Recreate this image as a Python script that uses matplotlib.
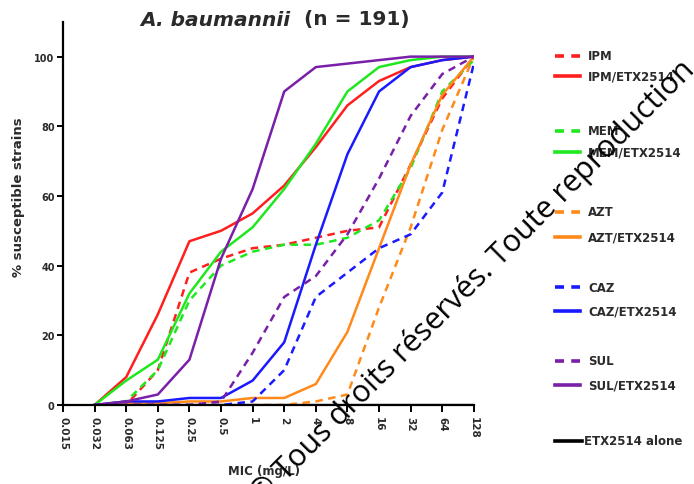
import matplotlib
matplotlib.use('Agg')
import matplotlib.pyplot as plt
from matplotlib.lines import Line2D

plt.rcParams.update({
    'font.family': ['DejaVu Sans'],
    'font.weight': 'bold',
    'axes.labelweight': 'bold',
    'axes.linewidth': 1.6,
})

mic = ['0.015', '0.032', '0.063', '0.125', '0.25', '0.5', '1', '2',
       '4', '8', '16', '32', '64', '128']

# % susceptible, starting at 0.032
ipm = [0, 0, 10, 38, 42, 45, 46, 48, 50, 51, 69, 88, 100]
ipm_etx = [0, 8, 26, 47, 50, 55, 63, 74, 86, 93, 97, 99, 100]
mem = [0, 1, 10, 30, 40, 44, 46, 46, 48, 53, 68, 90, 99]
mem_etx = [0, 7, 13, 32, 44, 51, 62, 75, 90, 97, 99, 100, 100]
azt = [0, 0, 0, 0, 0, 0, 0, 1, 3, 28, 51, 79, 100]
azt_etx = [0, 0.5, 0.5, 1, 1, 2, 2, 6, 21, 45, 69, 89, 100]
caz = [0, 0, 0, 0, 0, 1, 10, 31, 38, 45, 49, 61, 98]
caz_etx = [0, 1, 1, 2, 2, 7, 18, 46, 72, 90, 97, 99, 100]
sul = [0, 0, 0, 0, 1, 15, 31, 37, 49, 65, 83, 95, 100]
sul_etx = [0, 1, 3, 13, 42, 62, 90, 97, 98, 99, 100, 100, 100]
etx_alone = [0] * 13

RED = '#ff1f1f'
GREEN = '#1fe81f'
ORANGE = '#ff8a1a'
BLUE = '#1a1aff'
PURPLE = '#7a1fa8'
TXT = '#2a2a2a'

series = [
    ('IPM', ipm, RED, '--'), ('IPM/ETX2514', ipm_etx, RED, '-'),
    ('MEM', mem, GREEN, '--'), ('MEM/ETX2514', mem_etx, GREEN, '-'),
    ('AZT', azt, ORANGE, '--'), ('AZT/ETX2514', azt_etx, ORANGE, '-'),
    ('CAZ', caz, BLUE, '--'), ('CAZ/ETX2514', caz_etx, BLUE, '-'),
    ('SUL', sul, PURPLE, '--'), ('SUL/ETX2514', sul_etx, PURPLE, '-'),
]

W, H = 694, 485
fig = plt.figure(figsize=(6.94, 4.85), dpi=100)
ax = fig.add_axes([0.0908, 0.163, 0.592, 0.79])

x = list(range(1, len(mic)))
ax.plot(x, etx_alone, color='black', lw=1.6, zorder=1)
for name, vals, c, ls in series:
    ax.plot(x, vals, color=c, ls=ls, lw=1.8, dashes=(3, 2.2) if ls == '--' else (None, None),
            zorder=2)

ax.set_xlim(0, len(mic) - 1)
ax.set_ylim(0, 110)
ax.set_xticks(range(len(mic)))
ax.set_xticklabels(mic, rotation=270, fontsize=7.5, color=TXT)
ax.set_yticks([0, 20, 40, 60, 80, 100])
ax.tick_params(axis='y', labelsize=7, length=4, width=1.4, pad=2, labelcolor=TXT)
ax.tick_params(axis='x', length=5, width=1.4, pad=3)
for s in ['top', 'right']:
    ax.spines[s].set_visible(False)
ax.set_ylabel('% susceptible strains', fontsize=9.5, color=TXT)
ax.yaxis.set_label_coords(-0.092, 0.545)
ax.set_xlabel('MIC (mg/L)', fontsize=8.5, color=TXT)
ax.xaxis.set_label_coords(0.49, -0.155)

fig.text(290 / W, 1 - 20 / H, 'A. baumannii', ha='right', va='center',
         fontsize=14.5, style='italic', color=TXT)
fig.text(304 / W, 1 - 20 / H, '(n = 191)', ha='left', va='center',
         fontsize=14.5, color=TXT)

# legend drawn by hand to keep the grouped spacing
leg_y = [57, 77, 132, 153, 213, 238, 288, 312, 362, 386]
for (name, vals, c, ls), yp in zip(series, leg_y):
    fig.add_artist(Line2D([555 / W, 580 / W], [1 - yp / H] * 2, color=c, lw=2.6,
                          ls=ls, dashes=(2.5, 2) if ls == '--' else (None, None)))
    fig.text(588 / W, 1 - yp / H, name, fontsize=8.5, va='center', color=TXT)
fig.add_artist(Line2D([555 / W, 582 / W], [1 - 442 / H] * 2, color='black', lw=2.6))
fig.text(584 / W, 1 - 442 / H, 'ETX2514 alone', fontsize=8.5, va='center', color=TXT)

# watermark
fig.text(262 / W, 1 - 505 / H, '© Tous droits réservés. Toute reproduction', rotation=45,
         fontsize=22, family='Open Sans', weight='normal', ha='left', va='baseline',
         color='black', rotation_mode='anchor')

fig.savefig('out.png', dpi=100)
